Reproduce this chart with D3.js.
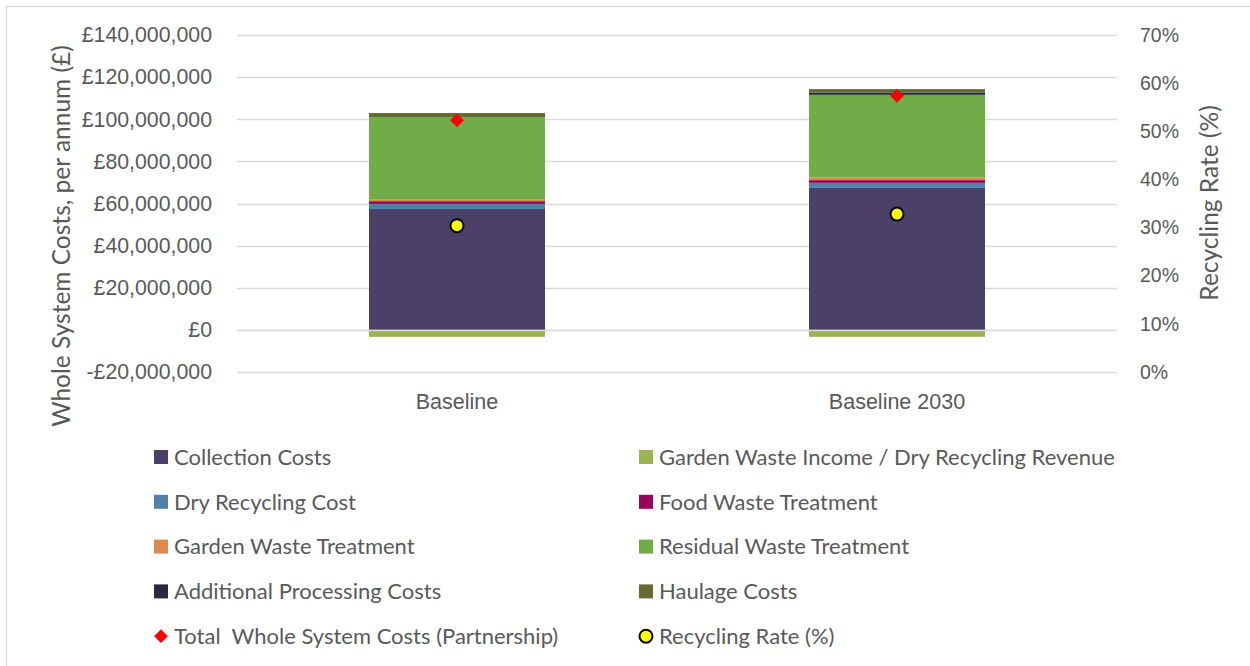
<!DOCTYPE html>
<html>
<head>
  <meta charset="utf-8">
  <title>Whole System Costs</title>
  <style>
    body { margin: 0; background: #fff; }
    svg { display: block; font-family: Lato, "Open Sans", sans-serif; }
    .axis text { fill: #595959; font-size: 21.3px; }
    .axis.right text { font-size: 19.5px; }
    .axis.bottom text { font-size: 21.5px; }
    .axis path, .axis line { display: none; }
    .grid line { stroke: #d9d9d9; stroke-width: 1.3; }
    .legend text { fill: #595959; font-size: 22px; white-space: pre; }
  </style>
  <script src="https://d3js.org/d3.v7.min.js"></script>
</head>
<body>
<script>
var categories = ["Baseline", "Baseline 2030"];

// cost components, £ per annum
var collectionCosts = [57400000, 67400000];
var gardenIncome = [-3300000, -3300000];
var dryRecycling = [2400000, 2400000];
var foodWaste = [1300000, 1300000];
var gardenTreatment = [950000, 1300000];
var residualWaste = [39000000, 39200000];
var additionalProcessing = [0, 1100000];
var haulageCosts = [1900000, 1600000];

var totalCosts = [99500000, 111100000];
var recyclingRate = [0.304, 0.328];

var leftTicks = [-20000000, 0, 20000000, 40000000, 60000000, 80000000, 100000000, 120000000, 140000000];
var rightTicks = [0, 0.1, 0.2, 0.3, 0.4, 0.5, 0.6, 0.7];

var series = [
  {key: "collection", name: "Collection Costs", color: "#4b4168", values: collectionCosts},
  {key: "gardenIncome", name: "Garden Waste Income / Dry Recycling Revenue", color: "#9bb451", values: gardenIncome},
  {key: "dry", name: "Dry Recycling Cost", color: "#4f81aa", values: dryRecycling},
  {key: "food", name: "Food Waste Treatment", color: "#99005a", values: foodWaste},
  {key: "gardenT", name: "Garden Waste Treatment", color: "#dc8a50", values: gardenTreatment},
  {key: "residual", name: "Residual Waste Treatment", color: "#70ac47", values: residualWaste},
  {key: "additional", name: "Additional Processing Costs", color: "#2a2741", values: additionalProcessing},
  {key: "haulage", name: "Haulage Costs", color: "#636b30", values: haulageCosts}
];

var W = 1250, H = 666;
var plot = {left: 237, right: 1117, top: 35, bottom: 372};

var svg = d3.select("body").append("svg").attr("width", W).attr("height", H);

// chart border (only top and left visible in the crop)
svg.append("rect")
  .attr("x", 6.5).attr("y", 6.5).attr("width", W + 10).attr("height", H + 10)
  .attr("fill", "none").attr("stroke", "#d9d9d9").attr("stroke-width", 1.3);

var x = d3.scaleBand().domain(categories).range([plot.left, plot.right]).paddingInner(0).paddingOuter(0);
var y = d3.scaleLinear().domain([-20000000, 140000000]).range([plot.bottom, plot.top]);
var y2 = d3.scaleLinear().domain([0, 0.7]).range([plot.bottom, plot.top]);

// gridlines
svg.append("g").attr("class", "grid")
  .selectAll("line").data(leftTicks).enter().append("line")
  .attr("x1", plot.left).attr("x2", plot.right)
  .attr("y1", function(d) { return Math.round(y(d)) + 0.5; })
  .attr("y2", function(d) { return Math.round(y(d)) + 0.5; });

// stacked bars
var table = categories.map(function(c, i) {
  var row = {cat: c};
  series.forEach(function(s) { row[s.key] = s.values[i]; });
  return row;
});
var stackOrder = ["collection", "dry", "food", "gardenT", "residual", "additional", "haulage", "gardenIncome"];
var stacked = d3.stack().keys(stackOrder).offset(d3.stackOffsetDiverging)(table);
var colorOf = {};
series.forEach(function(s) { colorOf[s.key] = s.color; });

var barW = x.bandwidth() * 0.4;
svg.append("g").selectAll("g").data(stacked).enter().append("g")
  .attr("fill", function(d) { return colorOf[d.key]; })
  .selectAll("rect").data(function(d) { return d; }).enter().append("rect")
  .attr("x", function(d) { return x(d.data.cat) + (x.bandwidth() - barW) / 2; })
  .attr("width", barW)
  .attr("y", function(d) { return y(Math.max(d[0], d[1])); })
  .attr("height", function(d) { return Math.abs(y(d[0]) - y(d[1])); });

// zero axis line over bars
svg.append("line")
  .attr("x1", plot.left).attr("x2", plot.right)
  .attr("y1", Math.round(y(0)) + 0.5).attr("y2", Math.round(y(0)) + 0.5)
  .attr("stroke", "#d9d9d9").attr("stroke-width", 1.5);

// total markers (diamonds)
svg.append("g").selectAll("path").data(totalCosts).enter().append("path")
  .attr("d", d3.symbol().type(d3.symbolDiamond2).size(120))
  .attr("transform", function(d, i) {
    return "translate(" + (x(categories[i]) + x.bandwidth() / 2) + "," + y(d) + ")";
  })
  .attr("fill", "#ff0000");

// recycling rate markers
svg.append("g").selectAll("circle").data(recyclingRate).enter().append("circle")
  .attr("cx", function(d, i) { return x(categories[i]) + x.bandwidth() / 2; })
  .attr("cy", function(d) { return y2(d); })
  .attr("r", 6.5)
  .attr("fill", "#ffff00").attr("stroke", "#000").attr("stroke-width", 2);

// axes
var fmtMoney = function(d) {
  return (d < 0 ? "-£" : "£") + d3.format(",")(Math.abs(d));
};
svg.append("g").attr("class", "axis left")
  .attr("transform", "translate(" + (plot.left - 14) + ",0)")
  .call(d3.axisLeft(y).tickValues(leftTicks).tickFormat(fmtMoney).tickSize(0).tickPadding(11));

svg.append("g").attr("class", "axis right")
  .attr("transform", "translate(" + (plot.right + 14) + ",0)")
  .call(d3.axisRight(y2).tickValues(rightTicks).tickFormat(d3.format(".0%")).tickSize(0).tickPadding(9));

svg.append("g").attr("class", "axis bottom")
  .attr("transform", "translate(0," + (plot.bottom + 20) + ")")
  .call(d3.axisBottom(x).tickSize(0).tickPadding(2));

// axis titles
svg.append("text")
  .attr("transform", "translate(70,236) rotate(-90)")
  .attr("text-anchor", "middle")
  .attr("fill", "#595959").attr("font-size", "24.5px")
  .text("Whole System Costs, per annum (£)");

svg.append("text")
  .attr("transform", "translate(1218,203) rotate(-90)")
  .attr("text-anchor", "middle")
  .attr("fill", "#595959").attr("font-size", "24.5px")
  .text("Recycling Rate (%)");

// legend
var legendItems = series.map(function(s) { return {name: s.name, color: s.color, type: "rect"}; });
legendItems.push({name: "Total  Whole System Costs (Partnership)", color: "#ff0000", type: "diamond"});
legendItems.push({name: "Recycling Rate (%)", color: "#ffff00", type: "circle"});

var colX = [154, 639];
var rowY0 = 457, rowStep = 44.8;
var lg = svg.append("g").attr("class", "legend")
  .selectAll("g").data(legendItems).enter().append("g")
  .attr("transform", function(d, i) {
    return "translate(" + colX[i % 2] + "," + (rowY0 + Math.floor(i / 2) * rowStep) + ")";
  });

lg.filter(function(d) { return d.type === "rect"; }).append("rect")
  .attr("x", 0).attr("y", -7).attr("width", 14).attr("height", 14)
  .attr("fill", function(d) { return d.color; });
lg.filter(function(d) { return d.type === "diamond"; }).append("path")
  .attr("d", d3.symbol().type(d3.symbolDiamond2).size(120))
  .attr("transform", "translate(7,0)")
  .attr("fill", "#ff0000");
lg.filter(function(d) { return d.type === "circle"; }).append("circle")
  .attr("cx", 7).attr("cy", 0).attr("r", 6.5)
  .attr("fill", "#ffff00").attr("stroke", "#000").attr("stroke-width", 2);

lg.append("text")
  .attr("x", 20).attr("y", 0).attr("dy", "0.35em")
  .text(function(d) { return d.name; });
</script>
</body>
</html>
